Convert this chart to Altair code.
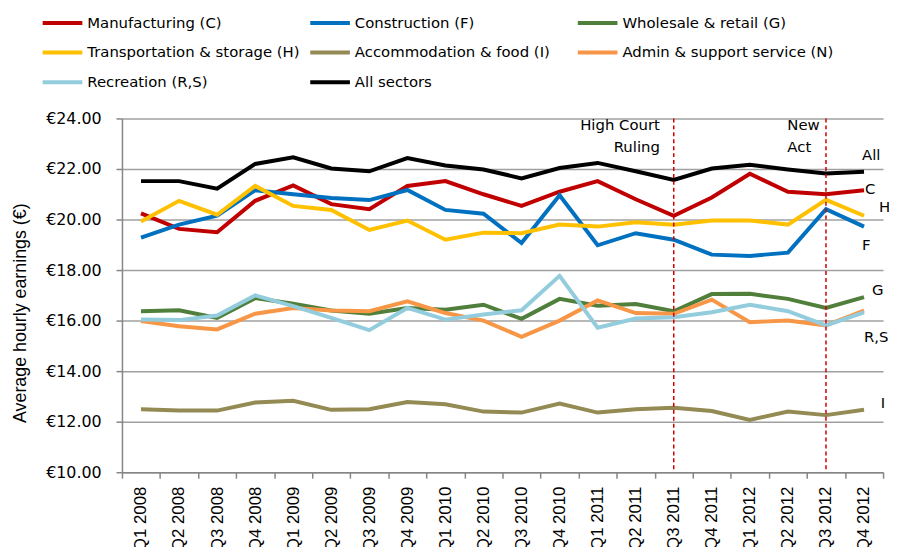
import altair as alt
import pandas as pd

quarters = ["Q1 2008", "Q2 2008", "Q3 2008", "Q4 2008",
            "Q1 2009", "Q2 2009", "Q3 2009", "Q4 2009",
            "Q1 2010", "Q2 2010", "Q3 2010", "Q4 2010",
            "Q1 2011", "Q2 2011", "Q3 2011", "Q4 2011",
            "Q1 2012", "Q2 2012", "Q3 2012", "Q4 2012"]

series_names = ["Manufacturing (C)", "Construction (F)", "Wholesale & retail (G)",
                "Transportation & storage (H)", "Accommodation & food (I)",
                "Admin & support service (N)", "Recreation (R,S)", "All sectors"]

manufacturing = [20.24, 19.63, 19.50, 20.74, 21.35, 20.61, 20.41, 21.33, 21.52, 21.00,
                 20.54, 21.10, 21.52, 20.80, 20.15, 20.87, 21.81, 21.10, 21.00, 21.16]
construction = [19.28, 19.80, 20.15, 21.16, 21.00, 20.85, 20.77, 21.17, 20.38, 20.23,
                19.07, 20.96, 18.98, 19.46, 19.20, 18.61, 18.56, 18.69, 20.41, 19.72]
wholesale = [16.37, 16.41, 16.11, 16.89, 16.67, 16.40, 16.27, 16.50, 16.43, 16.63,
             16.07, 16.86, 16.59, 16.66, 16.37, 17.05, 17.06, 16.86, 16.50, 16.93]
transportation = [19.92, 20.74, 20.19, 21.33, 20.54, 20.38, 19.59, 19.96, 19.20, 19.48,
                  19.46, 19.80, 19.72, 19.89, 19.79, 19.96, 19.96, 19.80, 20.78, 20.15]
accommodation = [12.49, 12.44, 12.44, 12.76, 12.83, 12.47, 12.49, 12.78, 12.69, 12.40,
                 12.36, 12.72, 12.36, 12.49, 12.55, 12.42, 12.07, 12.40, 12.26, 12.47]
admin = [15.98, 15.78, 15.65, 16.27, 16.50, 16.40, 16.37, 16.76, 16.30, 16.00,
         15.36, 16.00, 16.80, 16.30, 16.27, 16.83, 15.94, 16.00, 15.81, 16.40]
recreation = [16.04, 16.02, 16.20, 17.00, 16.57, 16.11, 15.62, 16.50, 16.04, 16.24,
              16.41, 17.77, 15.72, 16.08, 16.13, 16.33, 16.63, 16.37, 15.81, 16.33]
all_sectors = [21.52, 21.52, 21.22, 22.20, 22.46, 22.02, 21.91, 22.43, 22.14, 21.98,
               21.63, 22.04, 22.24, 21.91, 21.57, 22.02, 22.17, 21.98, 21.82, 21.89]

series_values = [manufacturing, construction, wholesale, transportation,
                 accommodation, admin, recreation, all_sectors]

series_colors = ["#C00000", "#0070C0", "#4F7F3A", "#FFC000",
                 "#948A54", "#F79646", "#93CDDD", "#000000"]

# event markers
event_quarters = ["Q3 2011", "Q3 2012"]
event_texts = ["High Court\nRuling", "New\nAct"]
event_top_value = 24.0

# end-of-line labels
end_labels = ["All", "C", "H", "F", "G", "R,S", "I"]
end_label_values = [22.54, 21.21, 20.50, 18.98, 17.22, 15.34, 12.72]
end_label_quarter = "Q4 2012"

# styling (offsets in pixels, not data)
end_label_dx = {"All": -2, "C": 1, "H": 15, "F": -2, "G": 8, "R,S": 0, "I": 17}
event_style = [{"align": "right", "dx": -14}, {"align": "left", "dx": -39}]

rows = []
for name, vals in zip(series_names, series_values):
    for q, v in zip(quarters, vals):
        rows.append({"series": name, "quarter": q, "value": v})
df = pd.DataFrame(rows)

FONT = "DejaVu Sans"

x_scale = alt.Scale(type="band", paddingInner=0, paddingOuter=0)

x_enc = alt.X(
    "quarter:O", sort=quarters, scale=x_scale, bandPosition=0.5,
    axis=alt.Axis(
        title=None, labelAngle=-90, labelFont="Liberation Sans", labelFontSize=17,
        labelColor="#000000", labelPadding=8, labelOverlap=False,
        tickBand="extent", tickSize=6, tickColor="#868686", tickWidth=1.5,
        domainColor="#868686", domainWidth=1.5, grid=False,
    ),
)

y_enc = alt.Y(
    "value:Q",
    scale=alt.Scale(domain=[10, 24], nice=False, zero=False),
    axis=alt.Axis(
        title="Average hourly earnings (€)", values=[10, 12, 14, 16, 18, 20, 22, 24],
        labelExpr="'€' + format(datum.value, '.2f')",
        labelFont=FONT, labelFontSize=16, labelColor="#000000", labelPadding=15,
        tickSize=6, tickColor="#868686", tickWidth=1.5,
        domainColor="#868686", domainWidth=1.5,
        grid=True, gridColor="#A0A0A0", gridWidth=1.5,
        titleFont="Liberation Sans", titleFontSize=18, titleFontWeight="normal",
        titleColor="#000000", titleX=-93, titleY=196,
    ),
)

lines = alt.Chart(df).mark_line(strokeWidth=4).encode(
    x=x_enc,
    y=y_enc,
    color=alt.Color(
        "series:N",
        scale=alt.Scale(domain=series_names, range=series_colors),
        sort=series_names,
        legend=alt.Legend(
            title=None, orient="none", direction="horizontal",
            legendX=-82, legendY=-104, columns=3, gridAlign="all",
            symbolType="stroke", symbolSize=1600, symbolStrokeWidth=4,
            clipHeight=15, rowPadding=14, columnPadding=8, labelOffset=3,
            labelFont=FONT, labelFontSize=15, labelColor="#000000", labelLimit=400,
            padding=0,
        ),
    ),
    detail="series:N",
)

events_df = pd.DataFrame({"quarter": event_quarters})
rules = alt.Chart(events_df).mark_rule(
    color="#D00000", strokeWidth=1.5, strokeDash=[4, 3]
).encode(x=alt.X("quarter:O", sort=quarters, scale=x_scale, bandPosition=0.5))

layers = [lines, rules]

for q, t, st in zip(event_quarters, event_texts, event_style):
    d = pd.DataFrame({"quarter": [q], "value": [event_top_value], "label": [t]})
    layers.append(
        alt.Chart(d).mark_text(
            font=FONT, fontSize=15, color="#000000", align=st["align"],
            baseline="top", lineBreak="\n", lineHeight=22, dx=st["dx"], dy=0,
        ).encode(
            x=alt.X("quarter:O", sort=quarters, scale=x_scale, bandPosition=0.5),
            y=alt.Y("value:Q"),
            text="label:N",
        )
    )

for lab, v in zip(end_labels, end_label_values):
    d = pd.DataFrame({"quarter": [end_label_quarter], "value": [v], "label": [lab]})
    layers.append(
        alt.Chart(d).mark_text(
            font=FONT, fontSize=15, color="#000000", align="left",
            baseline="middle", dx=end_label_dx[lab],
        ).encode(
            x=alt.X("quarter:O", sort=quarters, scale=x_scale, bandPosition=0.5),
            y=alt.Y("value:Q"),
            text="label:N",
        )
    )

chart = alt.layer(*layers).properties(
    width=768, height=357,
    autosize=alt.AutoSizeParams(type="none"),
    padding={"left": 115, "top": 109, "right": 6, "bottom": 73},
    background="white",
).configure_view(stroke=None)

chart.save("out.html", embed_options={"renderer": "svg", "actions": False})
